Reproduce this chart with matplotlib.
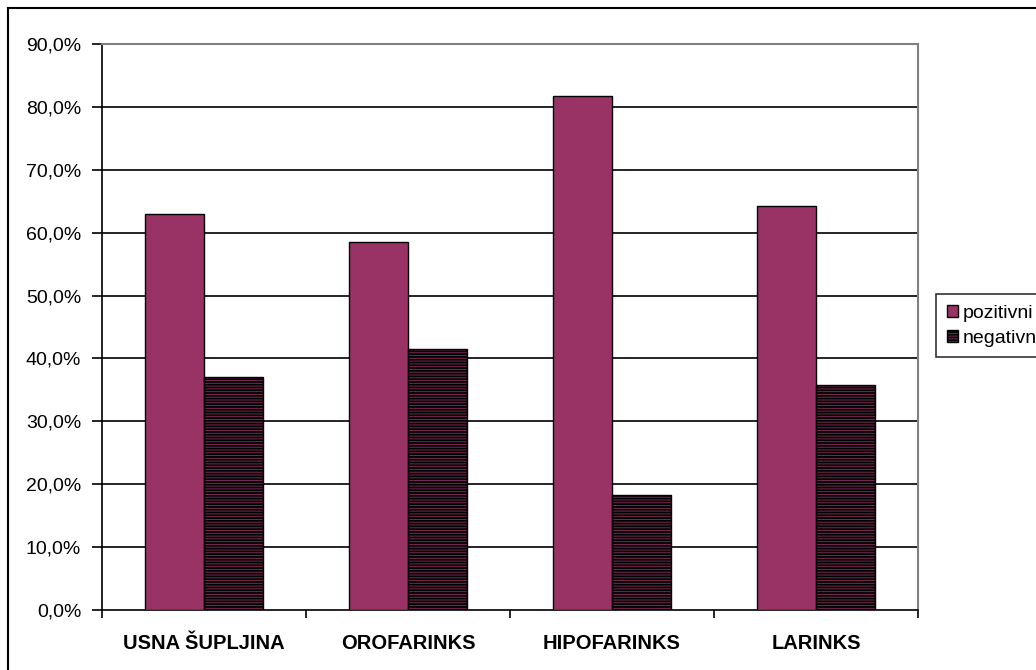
import numpy as np
import matplotlib
matplotlib.use('Agg')
import matplotlib.pyplot as plt
from matplotlib.lines import Line2D

kategorije = ['USNA ŠUPLJINA', 'OROFARINKS', 'HIPOFARINKS', 'LARINKS']
pozitivni = [63.0, 58.5, 81.8, 64.2]
negativni = [37.0, 41.5, 18.3, 35.8]
yticks = np.arange(0, 91, 10)

plt.rcParams['font.family'] = ['Liberation Sans', 'DejaVu Sans']
plt.rcParams['hatch.linewidth'] = 1.3

fig = plt.figure(figsize=(10.36, 6.70), dpi=100)
ax = fig.add_axes([102/1036, 60/670, 816/1036, 566/670])

x = np.arange(len(kategorije))
w = 0.29
ax.bar(x - w/2, pozitivni, w, color='#993366', edgecolor='black', linewidth=1, label='pozitivni', zorder=3)
ax.bar(x + w/2, negativni, w, color='#7a2a55', edgecolor='black', hatch='------',
       linewidth=1, label='negativni', zorder=3)

ax.set_xlim(-0.5, len(kategorije) - 0.5)
ax.set_ylim(0, 90)
ax.set_yticks(yticks)
ax.set_yticklabels([f'{v:.1f}%'.replace('.', ',') for v in yticks], fontsize=14)
for v in yticks[1:-1]:
    ax.axhline(v, color='black', linewidth=1.2, zorder=1)

ax.set_xticks(x)
ax.set_xticklabels(kategorije, fontsize=14.5, fontweight='bold')
ax.tick_params(axis='x', length=0, pad=17)
ax.set_xticks(np.arange(-0.5, len(kategorije)), minor=True)
ax.tick_params(axis='x', which='minor', length=6, width=1.2, color='black')
ax.tick_params(axis='y', length=7, width=1.2, pad=8)

ax.spines['left'].set_linewidth(1.2)
ax.spines['bottom'].set_linewidth(1.2)
ax.spines['top'].set_color('#808080')
ax.spines['right'].set_color('#808080')
ax.spines['top'].set_linewidth(1.5)
ax.spines['right'].set_linewidth(1.5)

leg = fig.legend(loc='upper left', bbox_to_anchor=(936/1036, 1 - 294/670), fontsize=14,
                 frameon=True, fancybox=False, edgecolor='black', handlelength=0.6,
                 handleheight=0.6, handletextpad=0.2, borderpad=0.55, labelspacing=0.4,
                 borderaxespad=0)
leg.get_frame().set_linewidth(1.2)

# okvir oko cijelog grafikona (desna i donja strana su odrezane)
fig.add_artist(Line2D([8/1036, 8/1036], [0, 1 - 8/670], color='black', linewidth=1.5))
fig.add_artist(Line2D([8/1036, 1], [1 - 8/670, 1 - 8/670], color='black', linewidth=1.5))

plt.savefig('out.png', dpi=100)
